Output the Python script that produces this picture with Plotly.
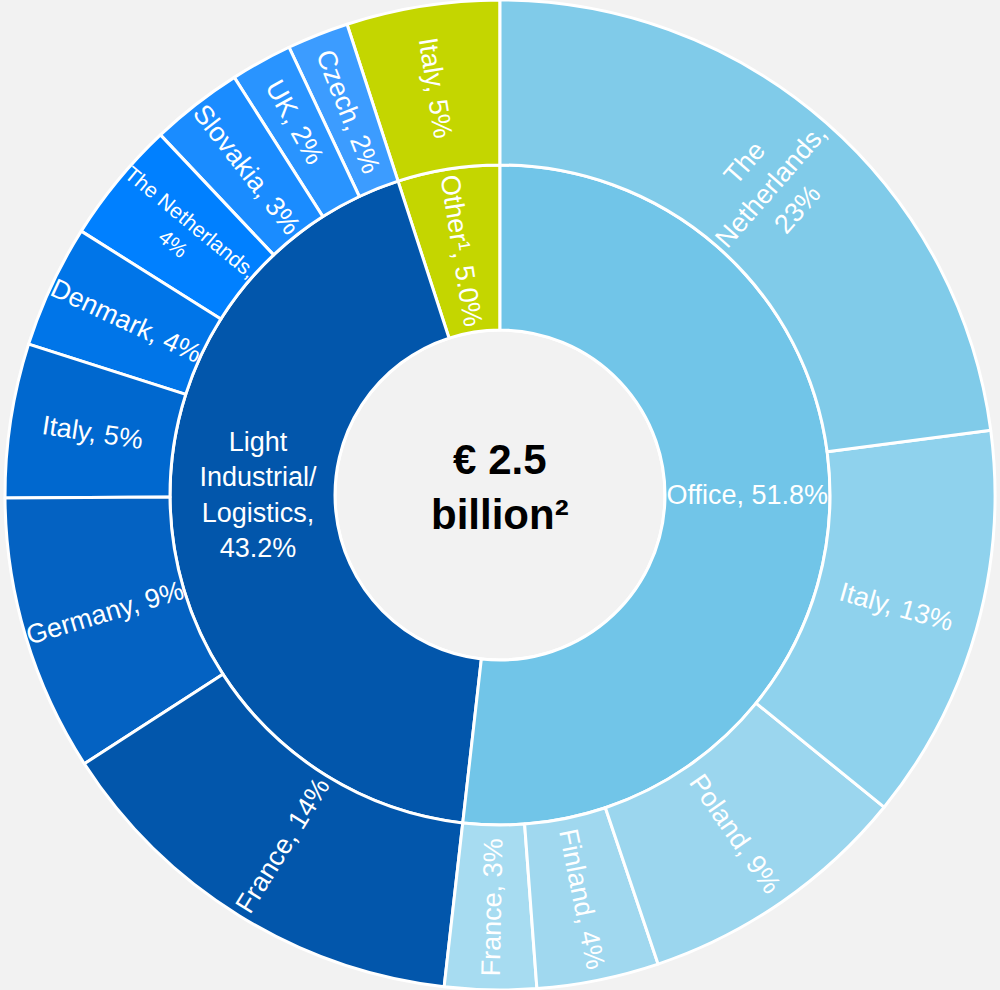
import math
import plotly.graph_objects as go

# Sectors (inner ring) and their shares, in %
sectors = ["Office", "Light Industrial/Logistics", "Other¹"]
sector_labels = ["Office, 51.8%", "Light<br>Industrial/<br>Logistics,<br>43.2%", "Other¹, 5.0%"]
sector_values = [51.8, 43.2, 5.0]
sector_colors = ["#71c5e8", "#0256ab", "#c4d600"]

# Countries (outer ring) per sector, in %
office_countries = ["The Netherlands", "Italy", "Poland", "Finland", "France"]
office_values = [23, 13, 9, 4, 3]
office_colors = ["#80cbe9", "#8fd2ed", "#9bd6ee", "#a0d8ef", "#a7dcf1"]

logistics_countries = ["France", "Germany", "Italy", "Denmark", "The Netherlands",
                       "Slovakia", "UK", "Czech"]
logistics_values = [14, 9, 5, 4, 4, 3, 2, 2]
logistics_colors = ["#0256ab", "#0462c2", "#0068cf", "#0075e8", "#0080ff",
                    "#1a8cff", "#2994ff", "#3c9cff"]

other_countries = ["Italy"]
other_values = [5]
other_colors = ["#c4d600"]

total_label = "<b>€ 2.5<br>billion²</b>"

FONT = "Liberation Sans, Arial, sans-serif"
WIDTH, HEIGHT = 1000, 990

children = [
    (office_countries, office_values, office_colors),
    (logistics_countries, logistics_values, logistics_colors),
    (other_countries, other_values, other_colors),
]

def country_text(name, v):
    if name == "The Netherlands" and v >= 10:
        return f"The<br>Netherlands,<br>{v}%"
    if name == "The Netherlands":
        return f"The Netherlands,<br>{v}%"
    return f"{name}, {v}%"

# Outer labels that should read along the radius even where the slice
# crosses the horizontal axis (plotly would lay those flat)
forced_radial = {("Office", "Italy")}

ids, labels, parents, values, colors, texts = [], [], [], [], [], []

# root (centre disc); its caption is drawn as an annotation
ids.append("root"); labels.append("total"); parents.append("")
values.append(sum(sector_values)); colors.append("#f2f2f2")
texts.append("")

# The sunburst runs counter-clockwise, so feed the sectors in reverse order
order = [2, 1, 0]
for i in order:
    ids.append(f"s{i}"); labels.append(sectors[i]); parents.append("root")
    values.append(sector_values[i]); colors.append(sector_colors[i])
    texts.append(sector_labels[i])

manual_labels = []
total = sum(sector_values)
# clockwise start (from 12 o'clock) of every sector
starts = [sum(sector_values[:k]) for k in range(len(sector_values))]
for i in order:
    names, vals, cols = children[i]
    scale = sector_values[i] / sum(vals)
    for j in reversed(range(len(names))):
        v = vals[j] * scale
        ids.append(f"s{i}c{j}"); labels.append(names[j]); parents.append(f"s{i}")
        values.append(v); colors.append(cols[j])
        txt = country_text(names[j], vals[j])
        if (sectors[i], names[j]) in forced_radial:
            texts.append("")
            mid = starts[i] + sum(vals[:j]) * scale + v / 2
            manual_labels.append((txt, 360.0 * mid / total))
        else:
            texts.append(txt)

fig = go.Figure(go.Sunburst(
    ids=ids, labels=labels, parents=parents, values=values,
    branchvalues="total", sort=False, rotation=90,
    text=texts, textinfo="text",
    insidetextorientation="radial",
    insidetextfont=dict(family=FONT, size=27, color="#ffffff"),
    marker=dict(colors=colors, line=dict(color="#ffffff", width=3)),
    leaf=dict(opacity=1),
    hoverinfo="skip",
))

# radial labels placed at the middle of the outer ring
R = min(WIDTH, HEIGHT) / 2
r_mid = R * 5 / 6
for txt, theta in manual_labels:
    a = math.radians(theta)
    fig.add_annotation(
        x=0.5 + r_mid * math.sin(a) / WIDTH,
        y=0.5 + r_mid * math.cos(a) / HEIGHT,
        xref="paper", yref="paper", showarrow=False,
        xanchor="center", yanchor="middle",
        text=txt, textangle=theta - 90,
        font=dict(family=FONT, size=27, color="#ffffff"),
    )

fig.add_annotation(
    x=0.5, y=0.5, xref="paper", yref="paper",
    xanchor="center", yanchor="middle",
    text=total_label, showarrow=False, yshift=8,
    font=dict(family=FONT, size=42, color="#000000"),
)

fig.update_layout(
    width=WIDTH, height=HEIGHT,
    margin=dict(l=0, r=0, t=0, b=0),
    paper_bgcolor="#f2f2f2",
    plot_bgcolor="#f2f2f2",
)

fig.write_html("out.html")
